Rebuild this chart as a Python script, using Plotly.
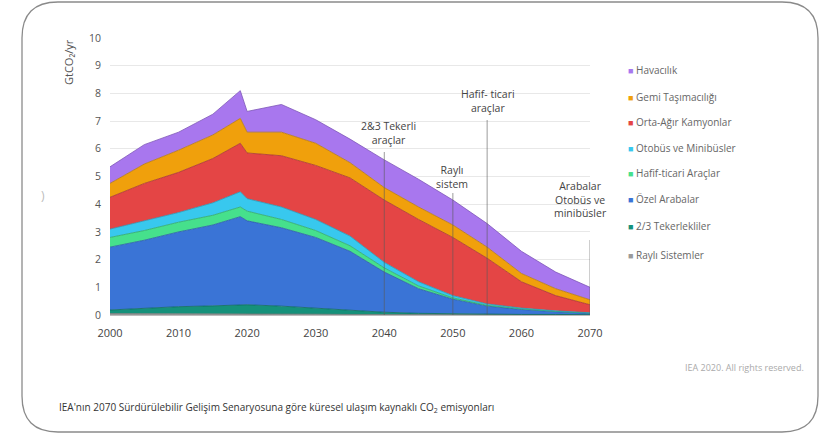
import plotly.graph_objects as go

years = [2000, 2005, 2010, 2015, 2019, 2020, 2025, 2030, 2035, 2040, 2045, 2050, 2055, 2060, 2065, 2070]

rayli      = [0.05, 0.05, 0.05, 0.05, 0.05, 0.05, 0.04, 0.03, 0.02, 0.02, 0.01, 0.01, 0.01, 0.01, 0.01, 0.01]
iki_uc     = [0.13, 0.20, 0.25, 0.28, 0.33, 0.32, 0.28, 0.22, 0.15, 0.08, 0.05, 0.03, 0.02, 0.01, 0.01, 0.00]
ozel       = [2.27, 2.45, 2.70, 2.92, 3.17, 3.03, 2.83, 2.55, 2.13, 1.45, 0.89, 0.53, 0.29, 0.18, 0.10, 0.05]
hafif      = [0.35, 0.35, 0.35, 0.35, 0.35, 0.35, 0.30, 0.25, 0.20, 0.15, 0.10, 0.05, 0.03, 0.02, 0.01, 0.01]
otobus     = [0.30, 0.35, 0.35, 0.45, 0.55, 0.45, 0.45, 0.40, 0.35, 0.20, 0.15, 0.08, 0.05, 0.03, 0.02, 0.01]
kamyon     = [1.15, 1.35, 1.45, 1.60, 1.75, 1.65, 1.85, 1.95, 2.10, 2.25, 2.25, 2.10, 1.65, 0.95, 0.55, 0.29]
gemi       = [0.50, 0.70, 0.80, 0.85, 0.90, 0.75, 0.85, 0.80, 0.55, 0.45, 0.45, 0.45, 0.40, 0.30, 0.25, 0.18]
havacilik  = [0.60, 0.70, 0.65, 0.75, 1.00, 0.75, 1.00, 0.85, 0.85, 1.00, 1.00, 0.90, 0.85, 0.80, 0.60, 0.45]

series_names = ["Raylı Sistemler", "2/3 Tekerlekliler", "Özel Arabalar", "Hafif-ticari Araçlar",
                "Otobüs ve Minibüsler", "Orta-Ağır Kamyonlar", "Gemi Taşımacılığı", "Havacılık"]
series_values = [rayli, iki_uc, ozel, hafif, otobus, kamyon, gemi, havacilik]
colors = ["#9a9a9a", "#15917a", "#3a74d6", "#46e08c", "#38c8ee", "#e44545", "#f0a00c", "#a877ee"]
edge = ["#777777", "#0d6b59", "#2a58a8", "#2fa866", "#2598b8", "#a83232", "#b87a08", "#7d57b8"]

x_ticks = [2000, 2010, 2020, 2030, 2040, 2050, 2060, 2070]
y_ticks = list(range(0, 11))

annot_x = [2040, 2050, 2055, 2070]
annot_text = ["2&3 Tekerli<br>araçlar", "Raylı<br>sistem", "Hafif- ticari<br>araçlar", "Arabalar<br>Otobüs ve<br>minibüsler"]

fig = go.Figure()
for name, vals, c, e in zip(series_names, series_values, colors, edge):
    fig.add_trace(go.Scatter(x=years, y=vals, name=name, stackgroup="one", mode="lines",
                             line=dict(color=e, width=0.8), fillcolor=c, showlegend=False,
                             hoverinfo="skip"))

L, R, T, B = 110, 231, 38, 120
W, H = 821, 435
pw, ph = W - L - R, H - T - B


def px(x):
    return (x - L) / pw


def py(y):
    return (H - B - y) / ph


def ypx_to_data(y):
    return (H - B - y) / ph * 10


shapes = []
line_tops = [152, 193, 120, 240]
for xv, top in zip(annot_x, line_tops):
    shapes.append(dict(type="line", xref="x", yref="y", x0=xv, x1=xv, y0=0, y1=ypx_to_data(top),
                       line=dict(color="rgba(90,90,90,0.6)", width=1), layer="above"))

# rounded border
x0, x1, y0, y1, r = 22, 818, 2, 432, 36
pts = [
    ("M", [(x0 + r, y0)]), ("L", [(x1 - r, y0)]), ("Q", [(x1, y0), (x1, y0 + r)]),
    ("L", [(x1, y1 - r)]), ("Q", [(x1, y1), (x1 - r, y1)]), ("L", [(x0 + r, y1)]),
    ("Q", [(x0, y1), (x0, y1 - r)]), ("L", [(x0, y0 + r)]), ("Q", [(x0, y0), (x0 + r, y0)]),
]
path = ""
for cmd, ps in pts:
    path += cmd + " " + " ".join(f"{px(a):.5f},{py(b):.5f}" for a, b in ps) + " "
path += "Z"
shapes.append(dict(type="path", xref="paper", yref="paper", path=path,
                   line=dict(color="#8a8a8a", width=1.3), layer="above"))

annotations = []
annot_centers = [(388, 133), (452, 177), (488, 101), (580, 199)]
for (cx, cy), t in zip(annot_centers, annot_text):
    annotations.append(dict(xref="paper", yref="paper", x=px(cx), y=py(cy), text=t, showarrow=False,
                            font=dict(size=10.5, color="#444"), xanchor="center", yanchor="middle",
                            align="center"))

# legend (Havacılık first)
legend_y = [70, 97, 122, 148, 173, 199, 226, 255]
for ly, name, c in zip(legend_y, reversed(series_names), reversed(colors)):
    annotations.append(dict(xref="paper", yref="paper", x=px(626), y=py(ly),
                            text=f"<span style='color:{c};font-size:9px'>■</span> {name}",
                            showarrow=False, font=dict(size=10, color="#666"), xanchor="left", yanchor="middle"))

annotations.append(dict(xref="paper", yref="paper", x=px(68), y=py(62), text="GtCO₂/yr", textangle=-90,
                        showarrow=False, font=dict(size=11, color="#555"), xanchor="center", yanchor="middle"))
annotations.append(dict(xref="paper", yref="paper", x=px(806), y=py(367), text="IEA 2020. All rights reserved.",
                        showarrow=False, font=dict(size=9, color="#aaa"), xanchor="right", yanchor="middle"))
annotations.append(dict(xref="paper", yref="paper", x=px(57), y=py(408),
                        text="IEA'nın 2070 Sürdürülebilir Gelişim Senaryosuna göre küresel ulaşım kaynaklı CO<sub>2</sub> emisyonları",
                        showarrow=False, font=dict(size=10, color="#333"), xanchor="left", yanchor="middle"))
annotations.append(dict(xref="paper", yref="paper", x=px(43), y=py(195), text=")",
                        showarrow=False, font=dict(size=12, color="#bbb"), xanchor="center", yanchor="middle"))

fig.update_layout(
    width=W, height=H,
    margin=dict(l=L, r=R, t=T, b=B, autoexpand=False),
    paper_bgcolor="white", plot_bgcolor="white",
    font=dict(family="Open Sans, sans-serif", color="#555"),
    xaxis=dict(range=[2000, 2070], tickvals=x_ticks, showgrid=False, zeroline=False,
               showline=True, linecolor="#bbb", linewidth=1, ticks="", ticklabelstandoff=8,
               tickfont=dict(size=11, color="#444")),
    yaxis=dict(range=[0, 10], tickvals=y_ticks, showgrid=True, gridcolor="#e8e8e8", gridwidth=1,
               zeroline=False, ticks="", ticklabelstandoff=8, tickfont=dict(size=10.5, color="#555")),
    shapes=shapes, annotations=annotations, showlegend=False,
)

fig.write_html("out.html", config={"displayModeBar": False},
               post_script="document.body.style.margin='0px';document.body.style.overflow='hidden';")
